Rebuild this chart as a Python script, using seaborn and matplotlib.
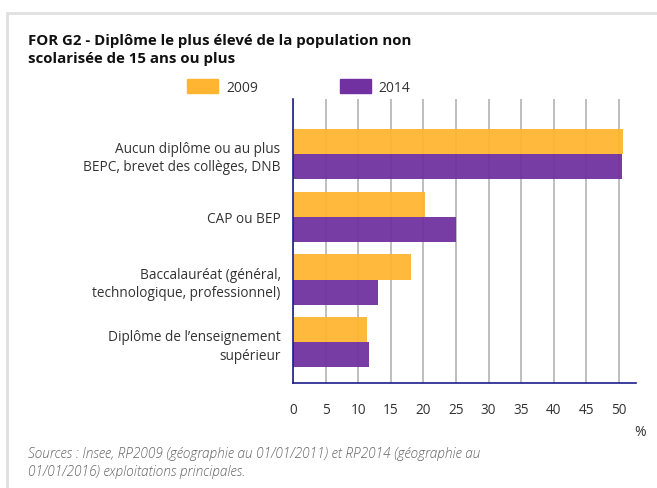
import numpy as np
import matplotlib
matplotlib.use("Agg")
import matplotlib.pyplot as plt
import pandas as pd
import seaborn as sns
from matplotlib.lines import Line2D

# data
categories = ["Aucun diplôme ou au plus\nBEPC, brevet des collèges, DNB",
              "CAP ou BEP",
              "Baccalauréat (général,\ntechnologique, professionnel)",
              "Diplôme de l’enseignement\nsupérieur"]
years = ["2009", "2014"]
vals_2009 = [50.6, 20.3, 18.1, 11.4]
vals_2014 = [50.5, 25.0, 13.1, 11.7]
xticks = [0, 5, 10, 15, 20, 25, 30, 35, 40, 45, 50]

title = "FOR G2 - Diplôme le plus élevé de la population non\nscolarisée de 15 ans ou plus"
source = ("Sources : Insee, RP2009 (géographie au 01/01/2011) et RP2014 (géographie au\n"
          "01/01/2016) exploitations principales.")

df = pd.DataFrame({
    "cat": categories * 2,
    "year": [years[0]] * 4 + [years[1]] * 4,
    "val": vals_2009 + vals_2014,
})

sns.set_theme(style="white")
plt.rcParams['font.family'] = ['Open Sans', 'DejaVu Sans']
txt = "#333333"
colors = ["#FFB531", "#7131A0"]

fig = plt.figure(figsize=(6.57, 4.89), dpi=100)
ax = fig.add_axes([0.446, 0.2147, 0.522, 0.581])

sns.barplot(data=df, y="cat", x="val", hue="year", orient="h", ax=ax,
            palette=colors, saturation=1, width=0.8, alpha=0.95,
            linewidth=0, legend=False)

ax.set_xlim(0, 52.6)
ax.set_ylim(3.65, -0.88)
ax.set_xticks(xticks)
ax.set_xticklabels([str(t) for t in xticks], fontsize=9.8, color=txt)
ax.set_yticks(range(len(categories)))
ax.set_yticklabels(categories, fontsize=9.8, color=txt, ha="right", linespacing=1.3)
ax.set_xlabel("")
ax.set_ylabel("")
ax.xaxis.grid(True, color="#b3b3b3", linewidth=1.2)
ax.set_axisbelow(True)
for s in ["top", "right"]:
    ax.spines[s].set_visible(False)
for s in ["left", "bottom"]:
    ax.spines[s].set_color("#1c1c8c")
    ax.spines[s].set_linewidth(1.2)
ax.tick_params(axis="x", length=6, color="#b3b3b3", width=1, pad=8)
ax.tick_params(axis="y", length=0, pad=9)

ax.text(1.013, -0.17, "%", transform=ax.transAxes, fontsize=10, color=txt, ha="center", va="center")

# legend
handles = [plt.Rectangle((0, 0), 1, 1, color=c) for c in colors]
fig.legend(handles, years, loc="center left", bbox_to_anchor=(0.266, 0.82), ncol=2,
           frameon=False, fontsize=10, handlelength=2.2, handleheight=1.2,
           handletextpad=0.6, columnspacing=5.9, labelcolor=txt)

fig.text(0.043, 0.898, title, fontsize=10.8, fontweight="bold", color="#111111",
         va="center", linespacing=1.4)
fig.text(0.043, 0.053, source, fontsize=9.8, style="italic", color="#666666",
         va="center", linespacing=1.4, fontweight="light")

# light frame around the panel
fig.add_artist(Line2D([0.011, 1], [0.972, 0.972], color="#e0e0e0", linewidth=2, transform=fig.transFigure))
fig.add_artist(Line2D([0.011, 0.011], [0, 0.972], color="#e0e0e0", linewidth=2, transform=fig.transFigure))

fig.savefig("out.png", dpi=100, facecolor="white")
